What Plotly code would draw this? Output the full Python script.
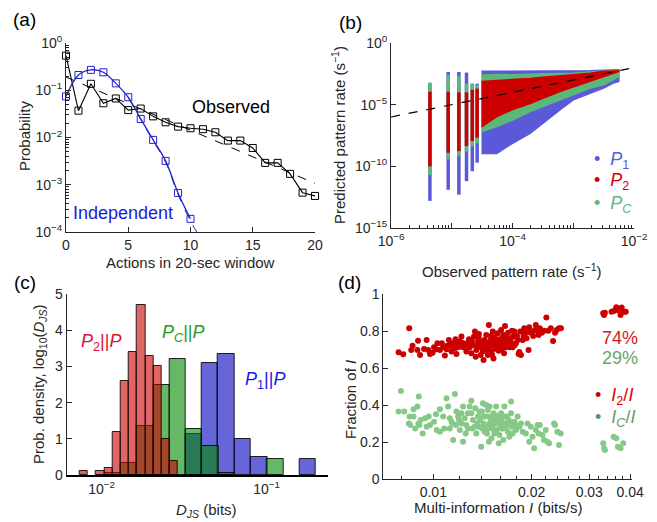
import plotly.graph_objects as go

W, H = 657, 522
OFF = 8  # page body margin of the browser
FONT = "Liberation Sans, Arial, Helvetica, sans-serif"
AX = "#262626"

# ---------------- (a) data ----------------
actions = list(range(21))
observed = [0.54, 0.037, 0.137, 0.053, 0.067, 0.038, 0.041, 0.028, 0.021, 0.017, 0.0157,
            0.015, 0.0129, 0.0086, 0.0086, 0.006, 0.0029, 0.0029, 0.0017, 0.00068, 0.00058]
obs_fit_x = [0, 20]
obs_fit_y = [0.19, 0.00107]
indep_x = list(range(11))
independent = [0.074, 0.21, 0.27, 0.24, 0.14, 0.071, 0.0247, 0.0089, 0.0032, 0.00067, 0.00019]
indep_fit_x = [5, 6, 7, 8, 9, 10, 10.5]
indep_fit_y = [0.07, 0.024, 0.0085, 0.003, 0.00062, 0.00017, 0.0001]

# ---------------- (b) data (log10 values) ----------------
col_rate = [4.37e-6, 8.74e-6, 1.31e-5, 1.75e-5, 2.18e-5, 2.62e-5]
p1_col_lo = [-12.8, -11.9, -12.3, -11.2, -10.4, -9.7]
p1_col_hi = [-3.3, -2.35, -2.35, -2.4, -3.3, -3.3]
pc_col_lo = [-10.7, -9.45, -9.2, -8.8, -8.4, -8.15]
pc_col_hi = [-3.2, -2.6, -2.7, -3.3, -3.3, -3.4]
p2_col_lo = [-10.0, -8.9, -8.77, -8.36, -7.95, -7.67]
p2_col_hi = [-3.95, -3.95, -4.0, -4.0, -3.8, -3.7]

wedge_logx = [-4.51, -4.26, -4.00, -3.71, -3.50, -3.22, -3.00, -2.72, -2.50, -2.34, -2.25]
p1_up = [-2.3, -2.3, -2.3, -2.3, -2.3, -2.3, -2.3, -2.25, -2.2, -2.17, -2.17]
p1_lo = [-8.95, -8.95, -8.14, -7.32, -6.5, -5.42, -4.61, -4.07, -3.66, -3.25, -3.12]
pc_up = [-2.6, -2.55, -2.58, -2.52, -2.50, -2.48, -2.45, -2.35, -2.25, -2.22, -2.2]
pc_lo = [-7.19, -6.78, -6.24, -5.56, -5.15, -4.61, -4.2, -3.66, -3.39, -2.98, -2.71]
p2_up = [-3.12, -3.05, -2.98, -2.88, -2.77, -2.68, -2.58, -2.45, -2.30, -2.27, -2.25]
p2_lo = [-6.8, -5.97, -5.4, -4.9, -4.48, -3.93, -3.58, -3.12, -2.71, -2.45, -2.3]
diag_rate = [1e-6, 1e-2]

# ---------------- (c) data: log10 bin edges and densities ----------------
p2_edges = [-2.136, -2.085, -2.035, -1.984, -1.934, -1.883, -1.835, -1.786, -1.736, -1.685, -1.635, -1.586, -1.538]
p2_dens = [0.1, 0.0, 0.1, 0.2, 1.2, 2.6, 3.4, 4.7, 3.3, 3.0, 1.0, 0.4]
pc_edges = [-1.981, -1.883, -1.785, -1.686, -1.588, -1.489, -1.391, -1.292, -1.194, -1.095, -0.997, -0.898]
pc_dens = [0.05, 0.33, 1.34, 2.5, 3.2, 1.26, 0.8, 0.05, 0.0, 0.0, 0.44]
p1_edges = [-1.491, -1.394, -1.294, -1.196, -1.095, -0.996, -0.897, -0.800, -0.703]
p1_dens = [1.14, 3.1, 3.35, 1.0, 0.49, 0.0, 0.0, 0.44]

# ---------------- (d) data ----------------
red_I = [0.00783, 0.00809, 0.00844, 0.00856, 0.00864, 0.00898, 0.00894, 0.00911, 0.00937, 0.00954,
         0.00965, 0.00977, 0.00995, 0.01019, 0.01029, 0.01048, 0.01072, 0.01085, 0.01098, 0.01116,
         0.01123, 0.01137, 0.01150, 0.01164, 0.01169, 0.01177, 0.01191, 0.01205, 0.01219, 0.01233,
         0.01247, 0.01262, 0.01277, 0.01292, 0.01307, 0.01322, 0.01332, 0.01341, 0.01348, 0.01354,
         0.01370, 0.01379, 0.01391, 0.01401, 0.01418, 0.01425, 0.01435, 0.01445, 0.01452, 0.01462,
         0.01469, 0.01479, 0.01486, 0.01496, 0.01507, 0.01514, 0.01521, 0.01528, 0.01539, 0.01550,
         0.01557, 0.01564, 0.01575, 0.01586, 0.01593, 0.01601, 0.01612, 0.01623, 0.01631, 0.01638,
         0.01646, 0.01657, 0.01669, 0.01681, 0.01693, 0.01709, 0.01725, 0.01741, 0.01757, 0.01774,
         0.01790, 0.01811, 0.01833, 0.01846, 0.01854, 0.01876, 0.01898, 0.01911, 0.01929, 0.01956,
         0.01965, 0.01988, 0.02021, 0.02050, 0.02059, 0.02084, 0.02118, 0.02147, 0.02182, 0.02218,
         0.02249, 0.02287, 0.02325, 0.02357, 0.02385, 0.02424, 0.02457,
         0.01360, 0.01376, 0.01411, 0.01428, 0.01459, 0.01503, 0.01532, 0.01546, 0.01568, 0.01582,
         0.01605, 0.01620, 0.01642, 0.01661, 0.01689, 0.01729, 0.01749, 0.01770, 0.01803, 0.01889,
         0.01942, 0.02012, 0.02098, 0.01286, 0.01227, 0.01186, 0.01145, 0.01103, 0.01062, 0.01005,
         0.01313, 0.01268, 0.01395, 0.01514, 0.01824,
         0.0331, 0.0333, 0.0335, 0.0351, 0.0357, 0.0363, 0.0370, 0.0374, 0.0377, 0.0384, 0.0388]
red_frac = [0.686, 0.675, 0.816, 0.699, 0.721, 0.749, 0.699, 0.671, 0.704, 0.753,
            0.699, 0.677, 0.684, 0.702, 0.735, 0.699, 0.713, 0.668, 0.702, 0.753,
            0.726, 0.690, 0.735, 0.708, 0.756, 0.677, 0.713, 0.744, 0.771, 0.713,
            0.731, 0.690, 0.738, 0.713, 0.681, 0.726, 0.771, 0.798, 0.662, 0.699,
            0.744, 0.785, 0.713, 0.735, 0.690, 0.644, 0.753, 0.708, 0.780, 0.735,
            0.671, 0.834, 0.713, 0.753, 0.690, 0.735, 0.798, 0.653, 0.767, 0.708,
            0.744, 0.721, 0.789, 0.695, 0.756, 0.735, 0.807, 0.708, 0.767, 0.735,
            0.681, 0.828, 0.771, 0.735, 0.792, 0.713, 0.762, 0.803, 0.771, 0.724,
            0.735, 0.753, 0.688, 0.798, 0.671, 0.753, 0.816, 0.789, 0.762, 0.699,
            0.821, 0.792, 0.774, 0.807, 0.834, 0.803, 0.816, 0.792, 0.803, 0.875,
            0.803, 0.816, 0.747, 0.792, 0.807, 0.816, 0.816,
            0.720, 0.767, 0.744, 0.720, 0.699, 0.774, 0.726, 0.753, 0.702, 0.735,
            0.713, 0.749, 0.780, 0.713, 0.753, 0.738, 0.713, 0.798, 0.774, 0.774,
            0.798, 0.798, 0.780, 0.756, 0.738, 0.735, 0.713, 0.721, 0.735, 0.713,
            0.749, 0.721, 0.671, 0.671, 0.677,
            0.897, 0.888, 0.900, 0.906, 0.910, 0.930, 0.911, 0.888, 0.928, 0.906, 0.906]
green_I = [0.00796, 0.00783, 0.00815, 0.00846, 0.00870, 0.00894, 0.00903, 0.00850, 0.00880, 0.00900,
           0.00915, 0.00943, 0.00954, 0.00968, 0.01019, 0.01005, 0.01048, 0.01072, 0.01098, 0.01110,
           0.01123, 0.01137, 0.01150, 0.01164, 0.01172, 0.01191, 0.01205, 0.01219, 0.01233, 0.01247,
           0.01262, 0.01277, 0.01292, 0.01307, 0.01322, 0.01338, 0.01354, 0.01370, 0.01385, 0.01401,
           0.01411, 0.01418, 0.01425, 0.01435, 0.01452, 0.01459, 0.01469, 0.01479, 0.01486, 0.01496,
           0.01507, 0.01514, 0.01521, 0.01528, 0.01539, 0.01550, 0.01557, 0.01564, 0.01575, 0.01586,
           0.01593, 0.01601, 0.01612, 0.01623, 0.01631, 0.01638, 0.01650, 0.01661, 0.01669, 0.01689,
           0.01701, 0.01709, 0.01729, 0.01741, 0.01749, 0.01770, 0.01790, 0.01811, 0.01833, 0.01854,
           0.01876, 0.01920, 0.01942, 0.01965, 0.01988, 0.02012, 0.02035, 0.02059, 0.02084, 0.02098,
           0.02118, 0.02157, 0.02182, 0.02208, 0.02234, 0.02260, 0.02341, 0.02357, 0.02396, 0.02424,
           0.02452, 0.01729, 0.01486, 0.01452, 0.01344, 0.01307, 0.01277, 0.01233, 0.01199, 0.01123,
           0.01080, 0.01048, 0.01024, 0.00977, 0.00928, 0.00907, 0.00870, 0.00842,
           0.01391, 0.01428, 0.01442, 0.01503, 0.01532, 0.01568, 0.01582, 0.01605, 0.01620, 0.01657,
           0.01681, 0.01376, 0.01360, 0.01316, 0.01256, 0.01219, 0.01177, 0.01145, 0.01469, 0.01408,
           0.01546, 0.01717, 0.01782,
           0.0331, 0.0333, 0.0335, 0.0356, 0.0363, 0.0367, 0.0374, 0.0381]
green_frac = [0.477, 0.365, 0.365, 0.338, 0.377, 0.392, 0.446, 0.292, 0.274, 0.301,
              0.319, 0.329, 0.283, 0.338, 0.350, 0.310, 0.377, 0.338, 0.437, 0.392,
              0.329, 0.310, 0.211, 0.460, 0.292, 0.338, 0.265, 0.301, 0.392, 0.329,
              0.292, 0.356, 0.392, 0.424, 0.319, 0.283, 0.247, 0.338, 0.365, 0.175,
              0.274, 0.410, 0.301, 0.256, 0.338, 0.247, 0.374, 0.202, 0.301, 0.338,
              0.220, 0.274, 0.292, 0.356, 0.247, 0.319, 0.392, 0.265, 0.338, 0.193,
              0.238, 0.292, 0.356, 0.310, 0.274, 0.211, 0.392, 0.338, 0.283, 0.256,
              0.319, 0.229, 0.356, 0.283, 0.247, 0.310, 0.265, 0.338, 0.283, 0.301,
              0.256, 0.247, 0.301, 0.202, 0.283, 0.229, 0.166, 0.265, 0.292, 0.247,
              0.292, 0.238, 0.211, 0.265, 0.202, 0.193, 0.301, 0.292, 0.256, 0.184,
              0.247, 0.419, 0.392, 0.401, 0.383, 0.356, 0.274, 0.202, 0.319, 0.274,
              0.274, 0.256, 0.265, 0.292, 0.247, 0.292, 0.338, 0.301,
              0.319, 0.338, 0.283, 0.319, 0.265, 0.301, 0.319, 0.338, 0.274, 0.301,
              0.338, 0.283, 0.301, 0.274, 0.247, 0.356, 0.365, 0.301, 0.274, 0.365,
              0.347, 0.301, 0.292,
              0.193, 0.166, 0.157, 0.229, 0.220, 0.175, 0.166, 0.193]

# ---------------- colours ----------------
C_BLUE_A = "#2222cc"
C_P1 = "#5a5ad8"
C_P2 = "#cc0000"
C_PC = "#5bb87a"
C_RED_D = "#cc0000"
C_GREEN_D = "#86c986"


def fx(p):
    return (p - OFF) / W


def fy(p):
    return 1 - (p - OFF) / H


fig = go.Figure()

# ---------------- (a) ----------------
fig.add_trace(go.Scatter(x=obs_fit_x, y=obs_fit_y, mode="lines", xaxis="x", yaxis="y",
                         line=dict(color="black", width=1, dash="dash"), cliponaxis=False))
fig.add_trace(go.Scatter(x=indep_fit_x, y=indep_fit_y, mode="lines", xaxis="x", yaxis="y",
                         line=dict(color=C_BLUE_A, width=1, dash="dash", shape="spline"), cliponaxis=False))
fig.add_trace(go.Scatter(x=actions, y=observed, mode="lines+markers", xaxis="x", yaxis="y",
                         line=dict(color="black", width=1.1),
                         marker=dict(symbol="square-open", size=7, color="black", line=dict(width=1)),
                         cliponaxis=False))
fig.add_trace(go.Scatter(x=indep_x, y=independent, mode="lines+markers", xaxis="x", yaxis="y",
                         line=dict(color=C_BLUE_A, width=1.3, shape="spline"),
                         marker=dict(symbol="square-open", size=7, color=C_BLUE_A, line=dict(width=1)),
                         cliponaxis=False))

# ---------------- (b) ----------------
def band(logx, up, lo, color):
    xs = [10 ** v for v in logx] + [10 ** v for v in logx[::-1]]
    ys = [10 ** v for v in up] + [10 ** v for v in lo[::-1]]
    fig.add_trace(go.Scatter(x=xs, y=ys, mode="lines", fill="toself", fillcolor=color,
                             line=dict(color=color, width=1.5), xaxis="x2", yaxis="y2"))


def columns(lo, hi, color):
    xs, ys = [], []
    for r, a, b in zip(col_rate, lo, hi):
        xs += [r, r, None]
        ys += [10 ** a, 10 ** b, None]
    fig.add_trace(go.Scatter(x=xs, y=ys, mode="lines", line=dict(color=color, width=3.5),
                             xaxis="x2", yaxis="y2"))


columns(p1_col_lo, p1_col_hi, C_P1)
band(wedge_logx, p1_up, p1_lo, C_P1)
columns(pc_col_lo, pc_col_hi, C_PC)
band(wedge_logx, pc_up, pc_lo, C_PC)
columns(p2_col_lo, p2_col_hi, C_P2)
band(wedge_logx, p2_up, p2_lo, C_P2)
fig.add_trace(go.Scatter(x=diag_rate, y=diag_rate, mode="lines", line=dict(color="black", width=1.2, dash="dash"),
                         xaxis="x2", yaxis="y2"))

# ---------------- (c) ----------------
def hist(edges, dens, color):
    cx, hh, ww = [], [], []
    for i, d in enumerate(dens):
        if d <= 0:
            continue
        cx.append((edges[i] + edges[i + 1]) / 2)
        ww.append(edges[i + 1] - edges[i])
        hh.append(d)
    fig.add_trace(go.Bar(x=cx, y=hh, width=ww, marker=dict(color=color, line=dict(color="rgba(0,0,0,0.85)", width=1)),
                         xaxis="x3", yaxis="y3"))


hist(p1_edges, p1_dens, "rgba(0,0,190,0.6)")
hist(pc_edges, pc_dens, "rgba(0,135,0,0.6)")
hist(p2_edges, p2_dens, "rgba(204,0,0,0.6)")

# ---------------- (d) ----------------
fig.add_trace(go.Scatter(x=red_I, y=red_frac, mode="markers", marker=dict(color=C_RED_D, size=6),
                         xaxis="x4", yaxis="y4", cliponaxis=False))
fig.add_trace(go.Scatter(x=green_I, y=green_frac, mode="markers", marker=dict(color=C_GREEN_D, size=6),
                         xaxis="x4", yaxis="y4", cliponaxis=False))


def sup(n):
    return "10<sup>" + ("\u2212" + str(-n) if n < 0 else str(n)) + "</sup>"


common = dict(showline=True, linecolor=AX, linewidth=1, showgrid=False, zeroline=False, automargin=False,
              ticks="inside", tickcolor=AX, ticklen=5, tickfont=dict(family=FONT, size=14, color=AX))

decades_a = [1e-4, 1e-3, 1e-2, 1e-1, 1]
minor_a = [k * d for d in [1e-4, 1e-3, 1e-2, 1e-1] for k in range(2, 10)]
minor_b = [k * d for d in [1e-6, 1e-5, 1e-4, 1e-3] for k in range(2, 10)]
minor_d = [0.008, 0.012, 0.014, 0.016, 0.018, 0.022, 0.024, 0.026, 0.028, 0.032, 0.034, 0.036, 0.038]

fig.update_layout(
    width=W, height=H, margin=dict(l=0, r=0, t=0, b=0, pad=0), autosize=False,
    paper_bgcolor="white", plot_bgcolor="white", showlegend=False,
    font=dict(family=FONT, size=14, color=AX),
    barmode="overlay", bargap=0,
    xaxis=dict(domain=[fx(66), fx(315)], range=[0, 20], anchor="y", tickvals=[0, 5, 10, 15, 20], **common),
    yaxis=dict(domain=[fy(232), fy(43)], type="log", range=[-4, 0], anchor="x",
               tickvals=decades_a, ticktext=[sup(n) for n in [-4, -3, -2, -1, 0]],
               minor=dict(tickvals=minor_a, ticks="inside", ticklen=3, tickcolor=AX), **common),
    xaxis2=dict(domain=[fx(391), fx(634)], type="log", range=[-6, -2], anchor="y2",
                tickvals=[1e-6, 1e-5, 1e-4, 1e-3, 1e-2], ticktext=[sup(-6), "", sup(-4), "", sup(-2)],
                minor=dict(tickvals=minor_b, ticks="inside", ticklen=3, tickcolor=AX), **common),
    yaxis2=dict(domain=[fy(228), fy(43)], type="log", range=[-15, 0], anchor="x2",
                tickvals=[1e-15, 1e-10, 1e-5, 1], ticktext=[sup(-15), sup(-10), sup(-5), sup(0)], **common),
    xaxis3=dict(domain=[fx(66.7), fx(328)], range=[-2.212, -0.628], anchor="y3",
                tickvals=[-2, -1], ticktext=[sup(-2), sup(-1)], automargin=False,
                showline=True, linecolor="black", linewidth=2, showgrid=False, zeroline=False, ticks="",
                tickfont=dict(family=FONT, size=14, color=AX)),
    yaxis3=dict(domain=[fy(475), fy(294)], range=[0, 5], anchor="x3", tickvals=[0, 1, 2, 3, 4, 5], **common),
    xaxis4=dict(domain=[fx(383.3), fx(631.7)], type="log", range=[-2.153, -1.393], anchor="y4",
                tickvals=[0.01, 0.02, 0.03, 0.04], ticktext=["0.01", "0.02", "0.03", "0.04"],
                minor=dict(tickvals=minor_d, ticks="inside", ticklen=3, tickcolor=AX), **common),
    yaxis4=dict(domain=[fy(479), fy(294.3)], range=[0, 1], anchor="x4",
                tickvals=[0, 0.2, 0.4, 0.6, 0.8, 1], ticktext=["0", "0.2", "0.4", "0.6", "0.8", "1"], **common),
)

anns = []


def ann(text, x, y, size=15, color=AX, angle=0, xanchor="center"):
    anns.append(dict(text=text, x=fx(x), y=fy(y), xref="paper", yref="paper", showarrow=False,
                     font=dict(family=FONT, size=size, color=color), textangle=angle,
                     xanchor=xanchor, yanchor="middle"))


# panel labels
ann("(a)", 24, 20, 19, "black")
ann("(b)", 350, 22, 19, "black")
ann("(c)", 25, 282, 19, "black")
ann("(d)", 349, 282, 19, "black")
# axis titles
ann("Probability", 25, 136, 15, angle=-90)
ann("Actions in 20-sec window", 190, 262, 15)
ann("Predicted pattern rate (s<sup>\u22121</sup>)", 338, 135, 15, angle=-90)
ann("Observed pattern rate (s<sup>\u22121</sup>)", 512, 270, 15)
ann("Prob. density, log<sub>10</sub>(<i>D<sub>JS</sub></i>)", 39, 384, 15, angle=-90)
ann("<i>D<sub>JS</sub></i> (bits)", 206, 510, 15)
ann("Fraction of <i>I</i>", 350, 400, 15, angle=-90)
ann("Multi-information <i>I</i> (bits/s)", 498, 507, 15)
# in-plot labels
ann("Observed", 231, 107, 18, "black")
ann("Independent", 123, 213, 18, "#1a1ad6")
ann("<span style='color:%s'>\u2022</span>  <i>P</i><sub>1</sub>" % C_P1, 592, 160, 18, "#4e5fe0", xanchor="left")
ann("<span style='color:%s'>\u2022</span>  <i>P</i><sub>2</sub>" % C_P2, 592, 182, 18, "#dd0000", xanchor="left")
ann("<span style='color:%s'>\u2022</span>  <i>P<sub>C</sub></i>" % C_PC, 592, 204, 18, "#5bb88a", xanchor="left")
ann("<i>P</i><sub>2</sub>||<i>P</i>", 101, 342, 18, "#dd1133")
ann("<i>P<sub>C</sub></i>||<i>P</i>", 183, 333, 18, "#22a022")
ann("<i>P</i><sub>1</sub>||<i>P</i>", 265, 380, 18, "#1a1ae6")
ann("74%", 620, 338, 18, "#d81818")
ann("29%", 620, 358, 18, "#6aa56a")
ann("<span style='color:#cc0000'>\u2022</span>  <i>I</i><sub>2</sub>/<i>I</i>", 593, 396, 18, "#e00000", xanchor="left")
ann("<span style='color:#5f8f5f'>\u2022</span>  <i>I<sub>C</sub></i>/<i>I</i>", 593, 418, 18, "#6a9a6a", xanchor="left")
fig.update_layout(annotations=anns)

fig.write_html("out.html")
